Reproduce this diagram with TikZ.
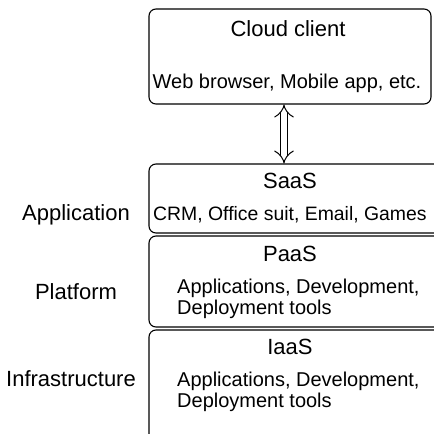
\documentclass[tikz,border=0pt]{standalone}
\usepackage{fontspec}
\setmainfont{Liberation Sans}
\usetikzlibrary{arrows.meta, positioning}

\begin{document}
\begin{tikzpicture}[x=1pt, y=-1pt]
    % Define font sizes
    \def\titleSize{\fontsize{22}{26}\selectfont}
    \def\textSize{\fontsize{20}{21}\selectfont}

    \definecolor{borderColour}{HTML}{000000}

    \tikzset{
        layerBox/.style={draw=borderColour, line width=1.1pt, rounded corners=7pt, inner sep=0pt},
        layerTitle/.style={font=\titleSize, inner sep=0pt},
        layerText/.style={font=\textSize, inner sep=0pt, align=left},
        sideLabel/.style={font=\titleSize, inner sep=0pt},
        layerLink/.style={draw=borderColour, line width=1pt, double, double distance=6pt, {Implies}-{Implies}}
    }

    % Fix the page size
    \useasboundingbox (0,0) rectangle (434,434);

    % Cloud client box
    \node[layerBox, minimum width=282pt, minimum height=95pt] (client) at (290,56.5) {};
    \node[layerTitle] (clientTitle) at (288,29) {Cloud client};
    \node[layerText] (clientText) at (287,83) {Web browser, Mobile app, etc.};

    % Service layers
    \node[layerBox, minimum width=331pt, minimum height=69pt] (saas) at (314.5,198.5) {};
    \node[layerTitle] (saasTitle) at (290,181) {SaaS};
    \node[layerText, anchor=west, font=\fontsize{19.4}{21}\selectfont] (saasText) at (153,215) {CRM, Office suit, Email, Games};

    \node[layerBox, minimum width=331pt, minimum height=91pt] (paas) at (314.5,281.5) {};
    \node[layerTitle] (paasTitle) at (290,254) {PaaS};
    \node[layerText, anchor=west] (paasText) at (177,299) {Applications, Development,\\Deployment tools};

    \node[layerBox, minimum width=331pt, minimum height=115pt] (iaas) at (314.5,387.5) {};
    \node[layerTitle] (iaasTitle) at (290,347) {IaaS};
    \node[layerText, anchor=west] (iaasText) at (177,392) {Applications, Development,\\Deployment tools};

    % Layer names
    \node[sideLabel] (appLabel) at (76,215) {Application};
    \node[sideLabel] (platLabel) at (76,292) {Platform};
    \node[sideLabel] (infraLabel) at (71,379) {Infrastructure};

    % Client to SaaS
    \draw[layerLink] ([xshift=-6pt]client.south) -- ([xshift=-6pt]client.south |- saas.north);
\end{tikzpicture}
\end{document}
